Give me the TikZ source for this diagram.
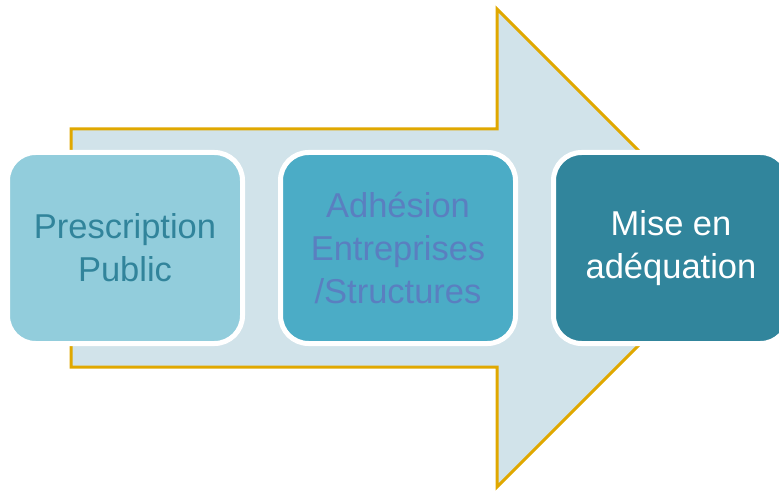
\documentclass[tikz,border=0pt]{standalone}
\usepackage{fontspec}
\setmainfont{Liberation Sans}
\definecolor{arrowfill}{HTML}{D1E3EA}
\definecolor{arrowline}{HTML}{E0A800}
\definecolor{boxa}{HTML}{92CDDC}
\definecolor{boxb}{HTML}{4BACC6}
\definecolor{boxc}{HTML}{31859C}
\definecolor{texta}{HTML}{31849B}
\definecolor{textb}{HTML}{5A7FC0}
\begin{document}
\begin{tikzpicture}[x=1pt,y=-1pt,
  bigarrow/.style={fill=arrowfill,draw=arrowline,line width=3pt,line join=miter},
  stepbox/.style={draw=white,line width=5pt,rounded corners=28pt,
    minimum width=235pt,minimum height=191pt,align=center,inner sep=0pt,
    font=\fontsize{34.5}{43}\selectfont}]
\useasboundingbox (0,0) rectangle (779,492);
\draw[bigarrow] (71,129) -- (497,129) -- (497,9) -- (736,248) -- (497,487) -- (497,367) -- (71,367) -- cycle;
\node[stepbox,fill=boxa,text=texta] (a) at (125,248) {Prescription\\Public};
\node[stepbox,fill=boxb,text=textb] (b) at (398,248) {Adhésion\\Entreprises\\/Structures};
\node[stepbox,fill=boxc,text=white] (c) at (671,248) {Mise en\\adéquation};
\end{tikzpicture}
\end{document}
